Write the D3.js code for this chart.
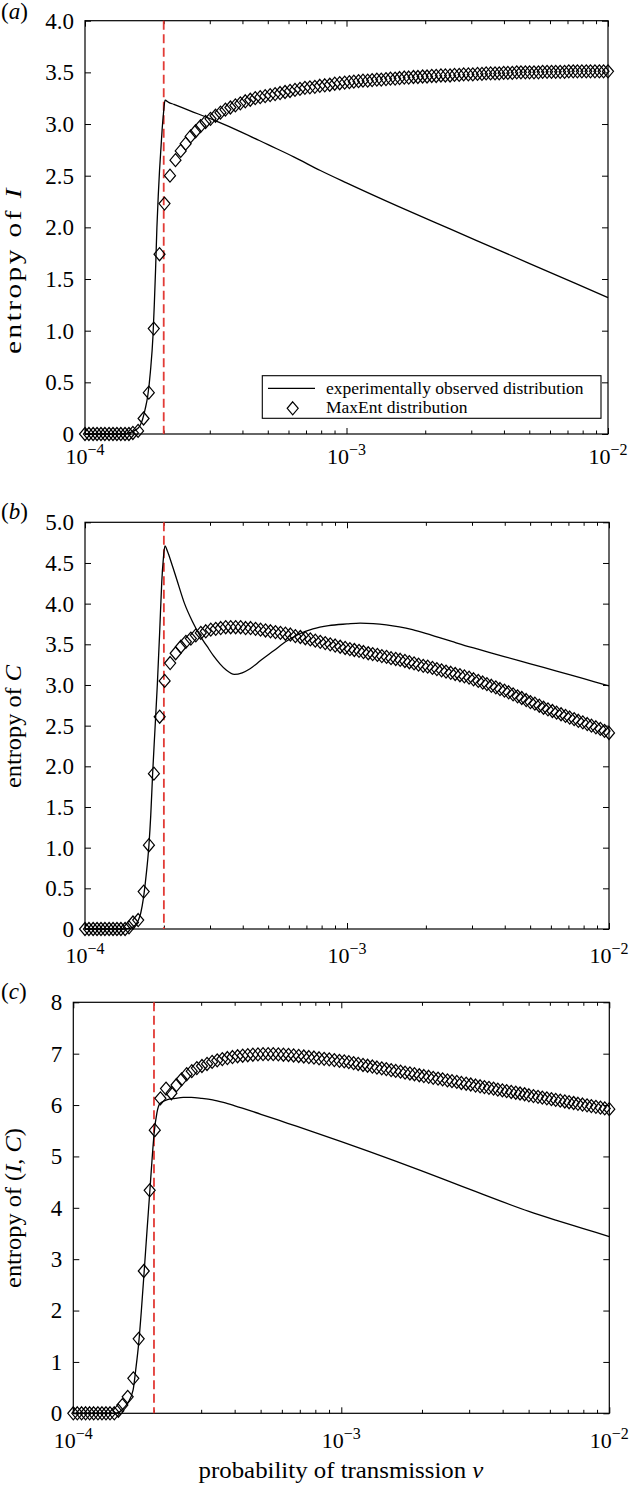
<!DOCTYPE html>
<html><head><meta charset="utf-8">
<script src="https://cdn.jsdelivr.net/npm/d3@7"></script>
<style>
html,body{margin:0;padding:0;background:#fff;}
svg{display:block;font-family:"Liberation Serif","Times New Roman",serif;}
</style>
</head><body>
<svg id="chart" width="629" height="1497"></svg>
<script>
// ---------------- DATA ----------------
// grid of transmission probabilities: log10(v / 1e-4)
const gridLogOffset = [0,0.015,0.031,0.046,0.061,0.076,0.092,0.107,0.122,0.137,0.153,0.168,0.183,
0.203,0.224,0.244,0.263,0.285,0.304,0.325,0.346,
0.366,0.385,0.404,0.423,0.442,0.461,0.480,0.499,0.518,0.537,0.556,0.575,0.594,0.613,0.632,0.651,0.670,0.689,0.708,0.727,0.746,0.765,0.784,0.803,0.822,0.841,0.860,0.879,0.898,0.917,0.936,0.955,0.974,0.993,
1.011,1.028,1.046,1.063,1.081,1.098,1.116,1.133,1.151,1.168,1.186,1.203,1.221,1.238,1.256,1.273,1.291,1.308,1.326,1.343,1.361,1.378,1.396,1.413,1.431,1.448,1.466,1.483,1.501,
1.518,1.534,1.551,1.568,1.584,1.601,1.617,1.634,1.651,1.667,1.684,1.700,1.717,1.734,1.750,1.767,1.784,1.800,1.817,1.834,1.850,1.867,1.883,1.900,1.917,1.933,1.950,1.967,1.983,2.000];

// MaxEnt distribution (diamonds)
const maxEntI = [0,0,0,0,0,0,0,0,0,0,0,0,0.01,
0.03,0.15,0.40,1.02,1.74,2.23,2.50,2.65,
2.74,2.81,2.88,2.93,2.98,3.02,3.05,3.08,3.11,3.14,3.16,3.18,3.20,3.22,3.235,3.25,3.26,3.27,3.28,3.29,3.30,3.31,3.32,3.33,3.34,3.35,3.355,3.36,3.37,3.375,3.38,3.39,3.395,3.40,
3.405,3.41,3.415,3.42,3.42,3.425,3.43,3.43,3.435,3.44,3.44,3.445,3.45,3.45,3.455,3.455,3.46,3.46,3.465,3.465,3.47,3.47,3.47,3.475,3.475,3.48,3.48,3.48,3.485,
3.485,3.49,3.49,3.49,3.49,3.495,3.495,3.495,3.5,3.5,3.5,3.5,3.5,3.5,3.505,3.505,3.505,3.505,3.505,3.505,3.51,3.51,3.51,3.51,3.51,3.51,3.51,3.51,3.51,3.51];

const maxEntC = [0,0,0,0,0,0,0,0,0,0,0,0.02,0.08,
0.11,0.46,1.03,1.91,2.61,3.05,3.27,3.39,
3.47,3.53,3.57,3.61,3.64,3.66,3.68,3.69,3.70,3.71,3.71,3.71,3.71,3.70,3.70,3.69,3.68,3.67,3.66,3.65,3.64,3.63,3.62,3.60,3.59,3.575,3.56,3.545,3.53,3.515,3.50,3.485,3.47,3.455,
3.44,3.43,3.42,3.405,3.39,3.38,3.37,3.355,3.345,3.33,3.32,3.31,3.295,3.28,3.265,3.25,3.235,3.225,3.21,3.195,3.18,3.165,3.15,3.135,3.12,3.105,3.09,3.07,3.05,
3.03,3.01,2.99,2.97,2.95,2.93,2.91,2.885,2.86,2.84,2.815,2.79,2.77,2.745,2.72,2.70,2.68,2.66,2.64,2.62,2.60,2.58,2.56,2.54,2.52,2.50,2.48,2.46,2.435,2.41];

const maxEntIC = [0,0,0,0,0,0,0,0,0,0,0,0.05,0.16,
0.32,0.68,1.45,2.77,4.34,5.51,6.13,6.32,
6.23,6.39,6.50,6.60,6.66,6.72,6.76,6.80,6.84,6.87,6.895,6.915,6.935,6.95,6.96,6.97,6.98,6.985,6.99,6.99,6.99,6.985,6.98,6.975,6.965,6.955,6.945,6.935,6.925,6.91,6.90,6.89,6.875,6.86,
6.85,6.835,6.815,6.80,6.78,6.765,6.75,6.73,6.715,6.70,6.68,6.665,6.65,6.63,6.615,6.60,6.58,6.565,6.55,6.53,6.515,6.50,6.48,6.465,6.45,6.43,6.415,6.40,6.38,
6.365,6.35,6.335,6.32,6.30,6.285,6.27,6.255,6.24,6.225,6.21,6.19,6.175,6.16,6.145,6.13,6.115,6.10,6.085,6.07,6.055,6.04,6.025,6.01,5.995,5.98,5.965,5.95,5.935,5.92];

// experimentally observed distribution (solid line): log10(v/1e-4) and entropy
const obsLogOffsetI = [0,0.15,0.18,0.20,0.21,0.22,0.23,0.24,0.25,0.26,0.265,0.27,0.275,0.28,0.285,0.29,0.295,0.30,0.306,0.32,0.34,0.40,0.50,0.60,0.70,0.80,0.90,1.00,1.20,1.40,1.60,1.80,2.00];
const obsI = [0,0,0.02,0.05,0.08,0.14,0.24,0.37,0.6,0.95,1.25,1.6,2.0,2.3,2.55,2.75,2.95,3.1,3.23,3.21,3.19,3.13,3.03,2.92,2.80,2.68,2.55,2.43,2.20,1.98,1.76,1.54,1.32];

const obsLogOffsetC = [0,0.15,0.175,0.185,0.195,0.204,0.213,0.223,0.233,0.244,0.251,0.258,0.267,0.276,0.285,0.293,0.299,0.305,0.315,0.33,0.35,0.38,0.41,0.44,0.465,0.49,0.515,0.54,0.57,0.60,0.63,0.67,0.72,0.77,0.82,0.87,0.93,1.0,1.05,1.1,1.15,1.2,1.25,1.3,1.35,1.4,1.45,1.5,1.6,1.7,1.8,1.9,2.0];
const obsC = [0,0,0.01,0.03,0.06,0.11,0.2,0.38,0.65,1.03,1.4,1.9,2.45,3.0,3.65,4.27,4.55,4.71,4.64,4.5,4.3,4.0,3.78,3.6,3.48,3.36,3.26,3.18,3.13,3.15,3.2,3.3,3.42,3.54,3.63,3.69,3.73,3.75,3.76,3.755,3.74,3.715,3.68,3.635,3.585,3.535,3.485,3.44,3.35,3.26,3.17,3.08,2.99];

const obsLogOffsetIC = [0,0.15,0.17,0.182,0.203,0.223,0.233,0.244,0.254,0.264,0.275,0.285,0.294,0.302,0.312,0.3235,0.3485,0.38,0.41,0.44,0.48,0.52,0.56,0.60,0.70,0.80,0.90,1.0,1.1,1.2,1.3,1.4,1.5,1.6,1.7,1.8,1.9,2.0];
const obsIC = [0,0,0.02,0.07,0.2,0.45,0.85,1.36,2.0,2.73,3.55,4.28,4.95,5.47,5.85,6.03,6.1,6.13,6.15,6.15,6.13,6.10,6.05,5.99,5.82,5.645,5.47,5.29,5.105,4.915,4.72,4.52,4.32,4.12,3.93,3.76,3.60,3.44];

// threshold (red dashed line)
const thresholdV = 2e-4;

// tick values / labels
const xDomain = [1e-4, 1e-2];
const xMajorExponents = [-4, -3, -2];
const xMinorMultipliers = [2,3,4,5,6,7,8,9];
const yTicksI = [0,0.5,1.0,1.5,2.0,2.5,3.0,3.5,4.0];
const yTicksC = [0,0.5,1.0,1.5,2.0,2.5,3.0,3.5,4.0,4.5,5.0];
const yTicksIC = [0,1,2,3,4,5,6,7,8];
const legendLabels = ["experimentally observed distribution", "MaxEnt distribution"];

// ---------------- DRAW ----------------
const svg = d3.select('#chart');
const FONT = 23;

const panels = [
  {tag:'a', box:[85,608,20.7,434], yMax:4, yTicks:yTicksI, fmt:d=>d===0?'0':d.toFixed(1),
   obsX:obsLogOffsetI, obsY:obsI, ent:maxEntI,
   yLabel:[['entropy of ',false],['I',true]], yLabelY:270, yLabelLen:168, yLabelSpacing:2,
   xLabOff:30, tagY:19, legend:true},
  {tag:'b', box:[85,609,522.3,929], yMax:5, yTicks:yTicksC, fmt:d=>d===0?'0':d.toFixed(1),
   obsX:obsLogOffsetC, obsY:obsC, ent:maxEntC,
   yLabel:[['entropy of ',false],['C',true]], yLabelY:726.5, yLabelLen:123, yLabelSpacing:0,
   xLabOff:34, tagY:519, legend:false},
  {tag:'c', box:[73.3,609.3,1002.3,1413.3], yMax:8, yTicks:yTicksIC, fmt:d=>String(d),
   obsX:obsLogOffsetIC, obsY:obsIC, ent:maxEntIC,
   yLabel:[['entropy of (',false],['I',true],[', ',false],['C',true],[')',false]], yLabelY:1208, yLabelLen:160, yLabelSpacing:0,
   xLabOff:35, tagY:999, legend:false}
];

const diamond = "M0,-6.5L5.5,0L0,6.5L-5.5,0Z";
const majorVals = xMajorExponents.map(e => Math.pow(10, e));
const minorVals = [];
xMajorExponents.slice(0, -1).forEach(e => xMinorMultipliers.forEach(m => minorVals.push(m * Math.pow(10, e))));

panels.forEach(p => {
  const [L, R, T, B] = p.box;
  const x = d3.scaleLog().domain(xDomain).range([L, R]);
  const y = d3.scaleLinear().domain([0, p.yMax]).range([B, T]);
  const g = svg.append('g');
  const vOf = o => 1e-4 * Math.pow(10, o);

  // frame
  g.append('rect').attr('x', L).attr('y', T).attr('width', R - L).attr('height', B - T)
    .attr('fill', 'none').attr('stroke', '#000').attr('stroke-width', 1.2);

  // ticks
  const addAxis = (axis, tx, ty) => {
    const a = g.append('g').attr('transform', `translate(${tx},${ty})`).call(axis);
    a.select('.domain').remove();
    a.selectAll('line').attr('stroke', '#000').attr('stroke-width', 1);
    return a;
  };
  addAxis(d3.axisBottom(x).tickValues(majorVals).tickSize(-6).tickFormat(''), 0, B);
  addAxis(d3.axisBottom(x).tickValues(minorVals).tickSize(-3.5).tickFormat(''), 0, B);
  addAxis(d3.axisTop(x).tickValues(majorVals).tickSize(-6).tickFormat(''), 0, T);
  addAxis(d3.axisTop(x).tickValues(minorVals).tickSize(-3.5).tickFormat(''), 0, T);
  const yl = addAxis(d3.axisLeft(y).tickValues(p.yTicks).tickSize(-6).tickPadding(11).tickFormat(p.fmt), L, 0);
  yl.selectAll('text').attr('font-family', '"Liberation Serif", serif').attr('font-size', FONT).attr('fill', '#000');
  addAxis(d3.axisRight(y).tickValues(p.yTicks).tickSize(-6).tickFormat(''), R, 0);

  // x tick labels with superscripts
  g.selectAll('text.xl').data(xMajorExponents).join('text').attr('class', 'xl')
    .attr('x', e => x(Math.pow(10, e))).attr('y', B + p.xLabOff)
    .attr('text-anchor', 'middle').attr('font-size', 22)
    .each(function(e) {
      const t = d3.select(this);
      t.append('tspan').text('10');
      t.append('tspan').attr('dy', -9).attr('font-size', 16).text('\u2212' + Math.abs(e));
    });

  // threshold
  g.append('line').attr('x1', x(thresholdV)).attr('x2', x(thresholdV)).attr('y1', T).attr('y2', B)
    .attr('stroke', '#e23b36').attr('stroke-width', 1.8).attr('stroke-dasharray', '9,4.5');

  // observed line
  const obs = p.obsX.map((o, i) => [vOf(o), p.obsY[i]]);
  g.append('path').datum(obs)
    .attr('d', d3.line().x(d => x(d[0])).y(d => y(d[1])).curve(d3.curveMonotoneX))
    .attr('fill', 'none').attr('stroke', '#000').attr('stroke-width', 1.3);

  // MaxEnt diamonds
  const n = Math.min(gridLogOffset.length, p.ent.length);
  const pts = d3.range(n).map(i => [vOf(gridLogOffset[i]), p.ent[i]]);
  g.selectAll('path.dm').data(pts).join('path').attr('class', 'dm')
    .attr('d', diamond).attr('transform', d => `translate(${x(d[0])},${y(d[1])})`)
    .attr('fill', 'none').attr('stroke', '#000').attr('stroke-width', 1.2);

  // panel tag
  const tg = g.append('text').attr('x', 1).attr('y', p.tagY).attr('font-size', FONT);
  tg.append('tspan').text('(');
  tg.append('tspan').attr('font-style', 'italic').text(p.tag);
  tg.append('tspan').text(')');

  // y label (rotated, fitted to measured length)
  const yt = g.append('text').attr('text-anchor', 'middle').attr('font-size', 24)
    .attr('letter-spacing', p.yLabelSpacing)
    .attr('transform', `translate(21,${p.yLabelY}) rotate(-90)`);
  p.yLabel.forEach(([s, it]) => yt.append('tspan').attr('font-style', it ? 'italic' : 'normal').text(s));
  const len = yt.node().getComputedTextLength();
  if (len > 0) yt.attr('transform', `translate(21,${p.yLabelY}) rotate(-90) scale(${p.yLabelLen / len},1)`);

  // legend
  if (p.legend) {
    const lg = g.append('g');
    lg.append('rect').attr('x', 262.3).attr('y', 375.7).attr('width', 338.7).attr('height', 42.6)
      .attr('fill', '#fff').attr('stroke', '#000').attr('stroke-width', 1.1);
    lg.append('line').attr('x1', 268).attr('x2', 315).attr('y1', 388.3).attr('y2', 388.3)
      .attr('stroke', '#000').attr('stroke-width', 1.3);
    lg.append('path').attr('d', diamond).attr('transform', 'translate(292.7,408.3)')
      .attr('fill', 'none').attr('stroke', '#000').attr('stroke-width', 1.2);
    lg.selectAll('text').data(legendLabels).join('text')
      .attr('x', 326).attr('y', (d, i) => 393.8 + i * 19).attr('font-size', 17.5).text(d => d);
  }
});

// x-axis title
const xt = svg.append('text').attr('text-anchor', 'middle').attr('font-size', 24)
  .attr('transform', 'translate(341,1478)');
xt.append('tspan').text('probability of transmission ');
xt.append('tspan').attr('font-style', 'italic').text('v');
const xl = xt.node().getComputedTextLength();
if (xl > 0) xt.attr('transform', `translate(341,1478) scale(${285 / xl},1)`);
</script>
</body></html>
